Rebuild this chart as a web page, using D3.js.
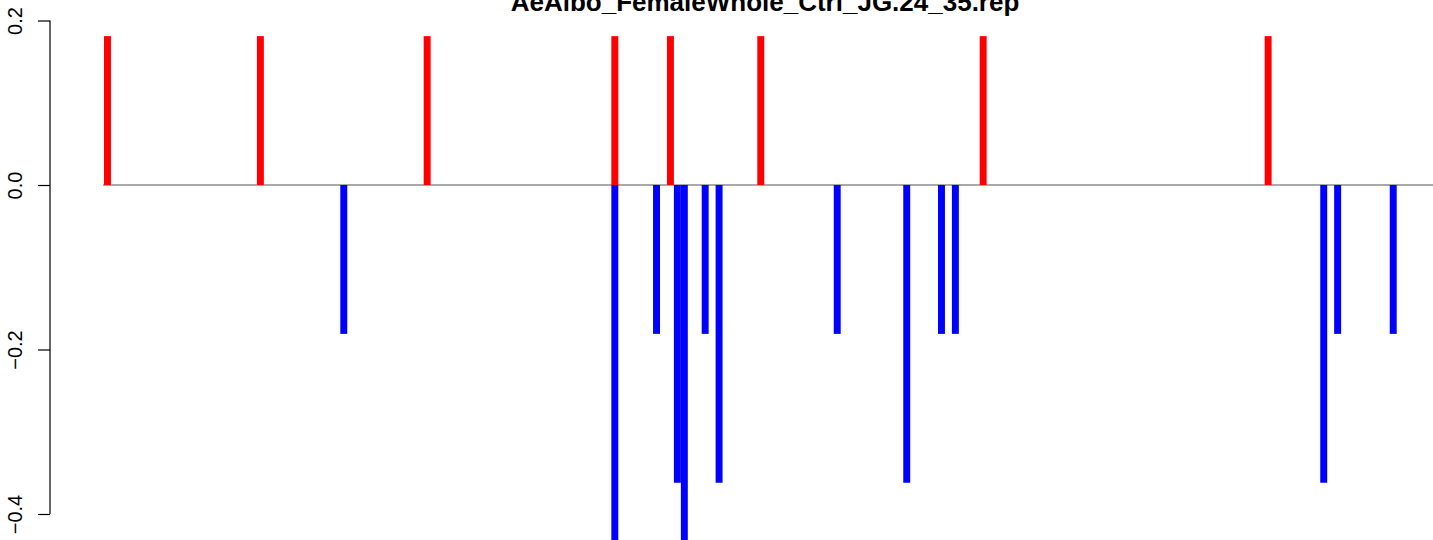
<!DOCTYPE html>
<html>
<head>
<meta charset="utf-8">
<script src="https://cdn.jsdelivr.net/npm/d3@7"></script>
<style>
  html, body { margin: 0; padding: 0; background: #fff; }
  svg { display: block; }
  text { font-family: "Liberation Sans", Arial, Helvetica, sans-serif; }
</style>
</head>
<body>
<svg id="chart" width="1433" height="540"></svg>
<script>
// ---- data ----
const title = "AeAlbo_FemaleWhole_Ctrl_JG.24_35.rep";
// bin index of each upward (red) bar and its value
const upBins   = [0, 22, 46, 73, 81, 94, 126, 167];
const upValues = [0.181, 0.181, 0.181, 0.181, 0.181, 0.181, 0.181, 0.181];
// bin index of each downward (blue) bar and its value
const downBins   = [34, 73, 79, 82, 83, 86, 88, 105, 115, 120, 122, 175, 177, 185];
const downValues = [-0.181, -0.543, -0.181, -0.362, -0.543, -0.181, -0.362, -0.181, -0.362, -0.181, -0.181, -0.362, -0.181, -0.181];
const yTicks = [0.2, 0.0, -0.2, -0.4];
const yTickLabels = ["0.2", "0.0", "\u22120.2", "\u22120.4"];
const binCount = 186;

// ---- layout ----
const W = 1433, H = 540;
const svg = d3.select("#chart");

const x = d3.scaleLinear().domain([0, binCount]).range([104, 104 + binCount * 6.95]);
const y = d3.scaleLinear().domain([-0.4, 0.2]).range([514, 20.5]);

svg.append("defs").append("clipPath").attr("id", "clip")
  .append("rect").attr("x", 0).attr("y", 0).attr("width", W).attr("height", H);

const g = svg.append("g").attr("clip-path", "url(#clip)");

// zero line
g.append("line")
  .attr("x1", x(0) - 1).attr("x2", W)
  .attr("y1", y(0)).attr("y2", y(0))
  .attr("stroke", "#555555").attr("stroke-width", 1.1);

// red bars
g.selectAll("rect.up").data(upBins.map((b, i) => ({b, v: upValues[i]})))
  .join("rect").attr("class", "up")
  .attr("x", d => x(d.b))
  .attr("width", d => x(d.b + 1) - x(d.b))
  .attr("y", d => y(d.v))
  .attr("height", d => y(0) - y(d.v))
  .attr("fill", "#ff0000");

// blue bars
g.selectAll("rect.down").data(downBins.map((b, i) => ({b, v: downValues[i]})))
  .join("rect").attr("class", "down")
  .attr("x", d => x(d.b))
  .attr("width", d => x(d.b + 1) - x(d.b))
  .attr("y", y(0))
  .attr("height", d => y(d.v) - y(0))
  .attr("fill", "#0000ff");

// y axis
const axis = d3.axisLeft(y).tickValues(yTicks).tickSize(12)
  .tickFormat((d, i) => yTickLabels[i]);
const ag = svg.append("g").attr("transform", "translate(50,0)").call(axis);
ag.select(".domain").attr("d", `M0,${y(0.2)}V${y(-0.4)}`).attr("stroke", "#000").attr("stroke-width", 1.2);
ag.selectAll(".tick line").attr("stroke", "#000").attr("stroke-width", 1.2);
ag.selectAll(".tick text")
  .attr("x", null).attr("dy", null)
  .attr("transform", "translate(-28,0) rotate(-90)")
  .attr("text-anchor", "middle")
  .attr("font-size", 20)
  .attr("fill", "#000");

// title
svg.append("text")
  .attr("x", 765).attr("y", 11)
  .attr("text-anchor", "middle")
  .attr("font-weight", "bold")
  .attr("font-size", 26)
  .attr("fill", "#000")
  .text(title);
</script>
</body>
</html>
